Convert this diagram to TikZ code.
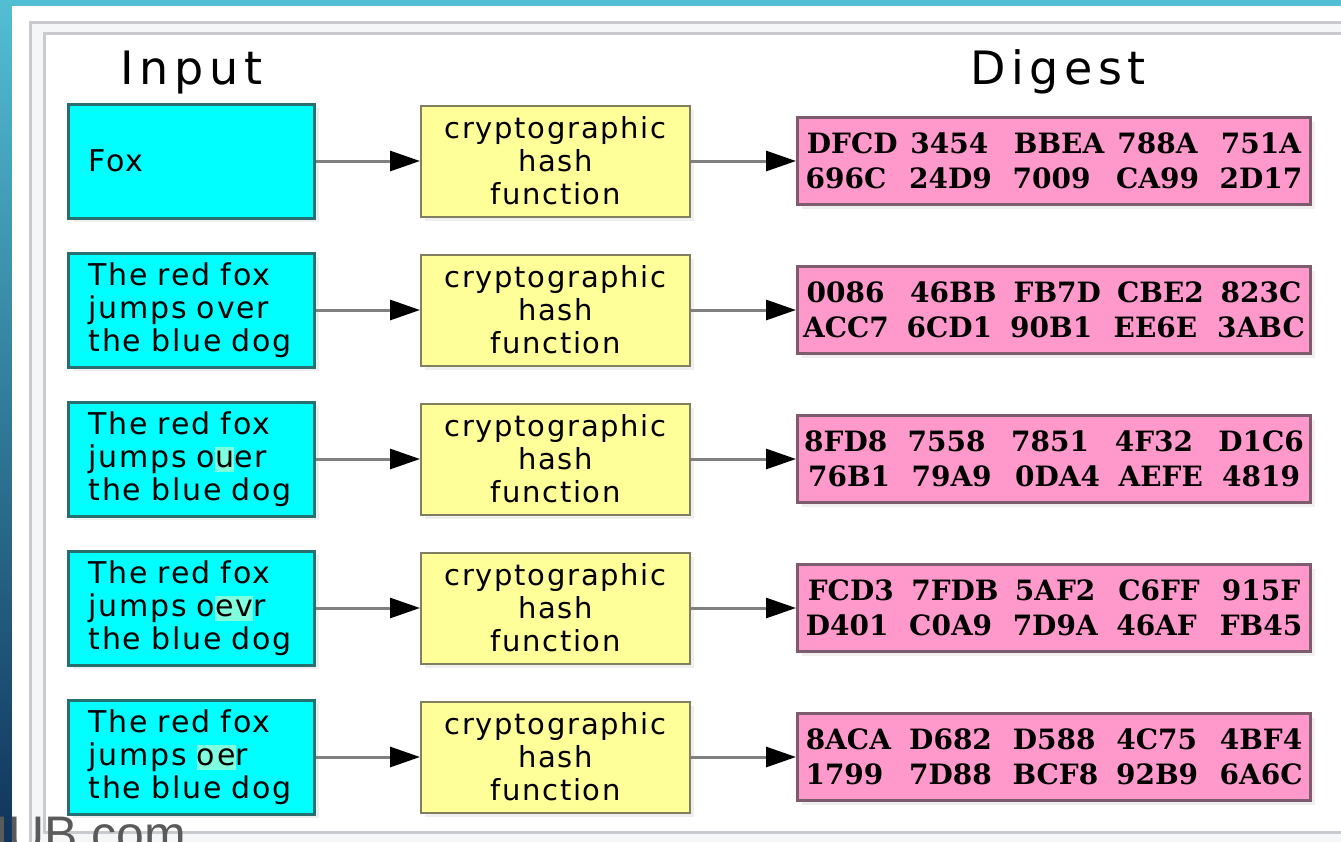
\documentclass[tikz,border=0pt]{standalone}
\usepackage{fontspec}
\usepackage{tikz}
\usetikzlibrary{positioning, arrows.meta, shadows}

\newfontfamily\boxfont[LetterSpace=6]{DejaVu Sans}
\newfontfamily\titlefont[LetterSpace=12]{DejaVu Sans}
\newfontfamily\hexfont{DejaVu Serif}
\newfontfamily\markfont{Liberation Sans}

\definecolor{slideTeal}{RGB}{82, 190, 212}
\definecolor{slideNavy}{RGB}{16, 52, 92}
\definecolor{frameGray}{RGB}{200, 202, 207}
\definecolor{frameLight}{RGB}{245, 246, 248}
\definecolor{inputCyan}{RGB}{0, 255, 255}
\definecolor{inputEdge}{RGB}{40, 112, 112}
\definecolor{hashYellow}{RGB}{255, 255, 153}
\definecolor{hashEdge}{RGB}{128, 128, 96}
\definecolor{digestPink}{RGB}{255, 153, 204}
\definecolor{digestEdge}{RGB}{125, 92, 110}
\definecolor{linkGray}{RGB}{128, 128, 128}
\definecolor{diffMint}{RGB}{128, 255, 222}
\definecolor{markGray}{RGB}{90, 90, 90}

% letters that changed against the plain sentence
\newcommand\diffmark[1]{\setbox0\hbox{#1}\rlap{\textcolor{diffMint}{\rule[-2.5pt]{\wd0}{12.5pt}}}\box0}
% one line of a digest: five groups of four hex digits
\newcommand\hexline[5]{\makebox[51.75pt][l]{#1}\makebox[51.75pt][l]{#2}\makebox[51.75pt][l]{#3}\makebox[51.75pt][l]{#4}#5}

\begin{document}
\begin{tikzpicture}[
    x=0.5pt, y=-0.5pt,
    input/.style={rectangle, draw=inputEdge, line width=1.5pt, fill=inputCyan, text width=103pt, inner xsep=10pt, minimum height=57pt, align=left, font=\boxfont\fontsize{15pt}{16.5pt}\selectfont, drop shadow={shadow xshift=2pt, shadow yshift=-2pt, fill=black!12}},
    hash/.style={rectangle, draw=hashEdge, line width=1pt, fill=hashYellow, minimum width=134.5pt, minimum height=55.5pt, inner sep=2pt, align=center, font=\boxfont\fontsize{14.5pt}{16.5pt}\selectfont, drop shadow={shadow xshift=2pt, shadow yshift=-2pt, fill=black!12}},
    digest/.style={rectangle, draw=digestEdge, line width=1.5pt, fill=digestPink, minimum width=256.5pt, minimum height=43.5pt, inner sep=2pt, align=center, font=\hexfont\bfseries\fontsize{14pt}{17.5pt}\selectfont, drop shadow={shadow xshift=2pt, shadow yshift=-2pt, fill=black!12}},
    title/.style={anchor=base, font=\titlefont\fontsize{23pt}{27pt}\selectfont},
    link/.style={-{Triangle[length=15pt, width=10pt, color=black]}, line width=1.5pt, linkGray}
]
    % Slide background and frame
    \clip (0,0) rectangle (1341,842);
    \shade[top color=slideTeal, bottom color=slideNavy] (0,0) rectangle (1341,842);
    \fill[white] (12,6) rectangle (1341,842);
    \draw[frameGray, line width=1.5pt, fill=frameLight] (30.5,22.5) rectangle (1360,870);
    \draw[frameGray, line width=1.5pt, fill=white] (44.5,33.5) rectangle (1350,832);

    % Inputs
    \node[input] (in1) at (191.5,161) {Fox};
    \node[input, below=16pt of in1] (in2) {The red fox\\jumps over\\the blue dog};
    \node[input, below=16pt of in2] (in3) {The red fox\\jumps o\diffmark{u}er\\the blue dog};
    \node[input, below=16pt of in3] (in4) {The red fox\\jumps o\diffmark{ev}r\\the blue dog};
    \node[input, below=16pt of in4] (in5) {The red fox\\jumps \diffmark{oe}r\\the blue dog};

    % Hash functions
    \node[hash, right=52pt of in1] (hash1) {cryptographic\\hash\\function};
    \node[hash, right=52pt of in2] (hash2) {cryptographic\\hash\\function};
    \node[hash, right=52pt of in3] (hash3) {cryptographic\\hash\\function};
    \node[hash, right=52pt of in4] (hash4) {cryptographic\\hash\\function};
    \node[hash, right=52pt of in5] (hash5) {cryptographic\\hash\\function};

    % Digests
    \node[digest, right=52.5pt of hash1] (dig1) {\hexline{DFCD}{3454}{BBEA}{788A}{751A}\\\hexline{696C}{24D9}{7009}{CA99}{2D17}};
    \node[digest, right=52.5pt of hash2] (dig2) {\hexline{0086}{46BB}{FB7D}{CBE2}{823C}\\\hexline{ACC7}{6CD1}{90B1}{EE6E}{3ABC}};
    \node[digest, right=52.5pt of hash3] (dig3) {\hexline{8FD8}{7558}{7851}{4F32}{D1C6}\\\hexline{76B1}{79A9}{0DA4}{AEFE}{4819}};
    \node[digest, right=52.5pt of hash4] (dig4) {\hexline{FCD3}{7FDB}{5AF2}{C6FF}{915F}\\\hexline{D401}{C0A9}{7D9A}{46AF}{FB45}};
    \node[digest, right=52.5pt of hash5] (dig5) {\hexline{8ACA}{D682}{D588}{4C75}{4BF4}\\\hexline{1799}{7D88}{BCF8}{92B9}{6A6C}};

    % Column titles
    \node[title] (intitle) at ([yshift=9pt]in1.north) {Input};
    \node[title] (digtitle) at ([xshift=2pt]dig1.north |- intitle.base) {Digest};

    % Links
    \draw[link] (in1) -- (hash1);
    \draw[link] (in2) -- (hash2);
    \draw[link] (in3) -- (hash3);
    \draw[link] (in4) -- (hash4);
    \draw[link] (in5) -- (hash5);
    \draw[link] (hash1) -- (dig1);
    \draw[link] (hash2) -- (dig2);
    \draw[link] (hash3) -- (dig3);
    \draw[link] (hash4) -- (dig4);
    \draw[link] (hash5) -- (dig5);

    % Watermark, cut by the page edge
    \node[anchor=base west, inner sep=0pt, text=markGray, font=\markfont\fontsize{25pt}{30pt}\selectfont] (mark) at (-28,851) {HUB.com};
\end{tikzpicture}
\end{document}
